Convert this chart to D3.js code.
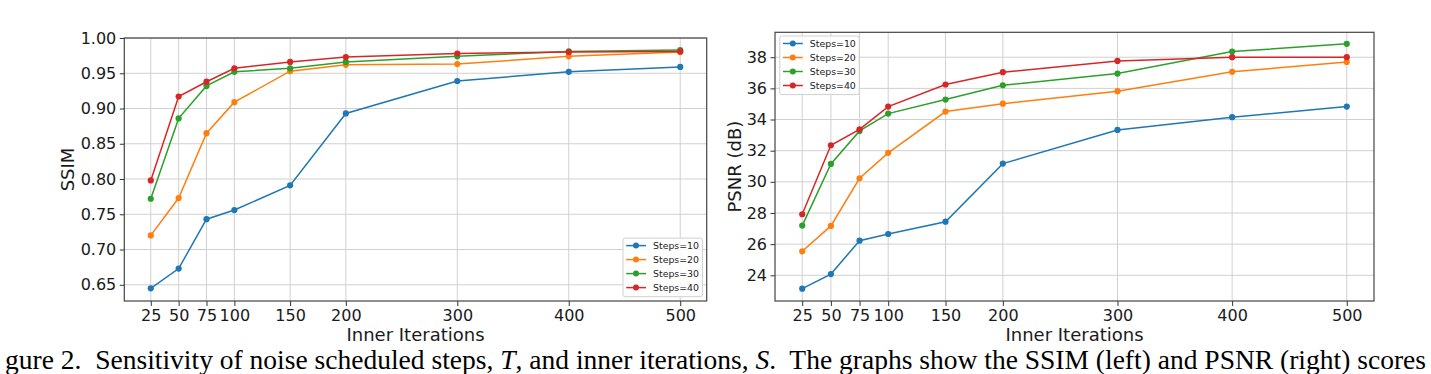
<!DOCTYPE html>
<html>
<head>
<meta charset="utf-8">
<script src="https://cdn.jsdelivr.net/npm/d3@7"></script>
<style>
  body { margin: 0; background: #fff; }
  svg { display: block; }
  .axis text { font-family: "DejaVu Sans", sans-serif; font-size: 16px; fill: #1a1a1a; }
  .axis line { stroke: #333; stroke-width: 1; }
  .grid line { stroke: #d0d0d0; stroke-width: 1; }
  .frame { fill: none; stroke: #444; stroke-width: 1.2; }
  .label { font-family: "DejaVu Sans", sans-serif; font-size: 18px; fill: #1a1a1a; }
  .legend text { font-family: "DejaVu Sans", sans-serif; font-size: 9.4px; fill: #222; }
  .caption { font-family: "Liberation Serif", "Times New Roman", serif; fill: #000; white-space: pre; }
</style>
</head>
<body>
<svg id="fig" width="1431" height="374"></svg>
<script>
/* global d3, document */

// inner iterations on the x axis
const iterations = [25, 50, 75, 100, 150, 200, 300, 400, 500];
const seriesNames = ['Steps=10', 'Steps=20', 'Steps=30', 'Steps=40'];
const colors = ['#1f77b4', '#ff7f0e', '#2ca02c', '#d62728'];

// SSIM (left panel)
const ssim10 = [0.645, 0.673, 0.743, 0.756, 0.791, 0.893, 0.939, 0.952, 0.959];
const ssim20 = [0.720, 0.773, 0.865, 0.909, 0.953, 0.962, 0.963, 0.974, 0.980];
const ssim30 = [0.772, 0.886, 0.932, 0.952, 0.957, 0.966, 0.974, 0.981, 0.983];
const ssim40 = [0.798, 0.917, 0.938, 0.957, 0.966, 0.973, 0.978, 0.980, 0.981];
const ssimTicks = [0.65, 0.70, 0.75, 0.80, 0.85, 0.90, 0.95, 1.00];

// PSNR (right panel)
const psnr10 = [23.14, 24.08, 26.22, 26.65, 27.44, 31.17, 33.33, 34.15, 34.83];
const psnr20 = [25.54, 27.17, 30.23, 31.86, 34.51, 35.02, 35.82, 37.06, 37.70];
const psnr30 = [27.19, 31.15, 33.27, 34.38, 35.28, 36.20, 36.95, 38.36, 38.86];
const psnr40 = [27.92, 32.35, 33.37, 34.83, 36.25, 37.04, 37.76, 38.00, 38.00];
const psnrTicks = [24, 26, 28, 30, 32, 34, 36, 38];

const xLabel = 'Inner Iterations';

document.addEventListener('DOMContentLoaded', () => {
  const svg = d3.select('#fig');

  const drawPanel = (p) => {
    const x = d3.scaleLinear().domain([1.25, 523.75]).range([p.left, p.right]);
    const y = d3.scaleLinear().domain(p.yDomain).range([p.bottom, p.top]);
    const g = svg.append('g');

    // grid
    const grid = g.append('g').attr('class', 'grid');
    grid.selectAll('line.v')
      .data(iterations)
      .enter().append('line')
        .attr('class', 'v')
        .attr('x1', d => x(d)).attr('x2', d => x(d))
        .attr('y1', p.top).attr('y2', p.bottom);
    grid.selectAll('line.h')
      .data(p.yTicks)
      .enter().append('line')
        .attr('class', 'h')
        .attr('x1', p.left).attr('x2', p.right)
        .attr('y1', d => y(d)).attr('y2', d => y(d));

    // axes
    const xAxis = g.append('g')
      .attr('class', 'axis')
      .attr('transform', `translate(0,${p.bottom})`)
      .call(d3.axisBottom(x).tickValues(iterations).tickSize(5).tickPadding(3.5));
    const yAxis = g.append('g')
      .attr('class', 'axis')
      .attr('transform', `translate(${p.left},0)`)
      .call(d3.axisLeft(y).tickValues(p.yTicks).tickFormat(p.fmt).tickSize(4.5).tickPadding(3.5));
    xAxis.select('.domain').remove();
    yAxis.select('.domain').remove();
    g.selectAll('.axis text').attr('font-family', null).attr('font-size', null);

    // lines + markers
    const line = d3.line()
      .x((d, i) => x(iterations[i]))
      .y(d => y(d));
    p.series.forEach((vals, k) => {
      g.append('path')
        .datum(vals)
        .attr('fill', 'none')
        .attr('stroke', colors[k])
        .attr('stroke-width', 1.5)
        .attr('d', line);
      g.selectAll(`circle.s${k}`)
        .data(vals)
        .enter().append('circle')
          .attr('class', `s${k}`)
          .attr('cx', (d, i) => x(iterations[i]))
          .attr('cy', d => y(d))
          .attr('r', 3.1)
          .attr('fill', colors[k]);
    });

    g.append('rect')
      .attr('class', 'frame')
      .attr('x', p.left).attr('y', p.top)
      .attr('width', p.right - p.left)
      .attr('height', p.bottom - p.top);

    // axis labels
    g.append('text')
      .attr('class', 'label')
      .attr('text-anchor', 'middle')
      .attr('x', (p.left + p.right) / 2)
      .attr('y', 340.5)
      .text(xLabel);
    g.append('text')
      .attr('class', 'label')
      .attr('text-anchor', 'middle')
      .attr('transform', `translate(${p.yLabelX},${(p.top + p.bottom) / 2}) rotate(-90)`)
      .text(p.yLabel);

    // legend
    const lw = 79.4, lh = 58.6;
    const lx = p.legendRight ? p.right - 4.3 - lw : p.left + 4.8;
    const ly = p.legendRight ? p.bottom - 4.3 - lh : p.top + 3.7;
    const leg = g.append('g').attr('class', 'legend').attr('transform', `translate(${lx},${ly})`);
    leg.append('rect')
      .attr('width', lw).attr('height', lh)
      .attr('rx', 2).attr('ry', 2)
      .attr('fill', '#fff').attr('fill-opacity', 0.85)
      .attr('stroke', '#d0d0d0').attr('stroke-width', 1);
    seriesNames.forEach((name, k) => {
      const cy = 7.5 + k * 14;
      leg.append('line')
        .attr('x1', 3.2).attr('x2', 23)
        .attr('y1', cy).attr('y2', cy)
        .attr('stroke', colors[k]).attr('stroke-width', 1.5);
      leg.append('circle')
        .attr('cx', 13).attr('cy', cy).attr('r', 3)
        .attr('fill', colors[k]);
      leg.append('text')
        .attr('x', 30).attr('y', cy)
        .attr('dy', '0.35em')
        .text(name);
    });
  };

  drawPanel({
    left: 124.3, right: 706.7, top: 38, bottom: 301,
    yDomain: [0.627, 1.0], yTicks: ssimTicks, fmt: d3.format('.2f'),
    series: [ssim10, ssim20, ssim30, ssim40],
    yLabel: 'SSIM', yLabelX: 74, legendRight: true,
  });

  drawPanel({
    left: 775, right: 1374, top: 32.3, bottom: 301,
    yDomain: [22.35, 39.6], yTicks: psnrTicks, fmt: d3.format('d'),
    series: [psnr10, psnr20, psnr30, psnr40],
    yLabel: 'PSNR (dB)', yLabelX: 740.5, legendRight: false,
  });

  // caption (cut at the left edge of the crop)
  const cap = svg.append('text')
    .attr('class', 'caption')
    .attr('x', 5)
    .attr('y', 369)
    .attr('font-size', 19);
  cap.append('tspan').text('gure 2.  Sensitivity of noise scheduled steps, ');
  cap.append('tspan').attr('font-style', 'italic').text('T');
  cap.append('tspan').text(', and inner iterations, ');
  cap.append('tspan').attr('font-style', 'italic').text('S');
  cap.append('tspan').text('.  The graphs show the SSIM (left) and PSNR (right) scores');
  const w = cap.node().getComputedTextLength();
  cap.attr('font-size', 19 * 1422 / w);
});
</script>
</body>
</html>
